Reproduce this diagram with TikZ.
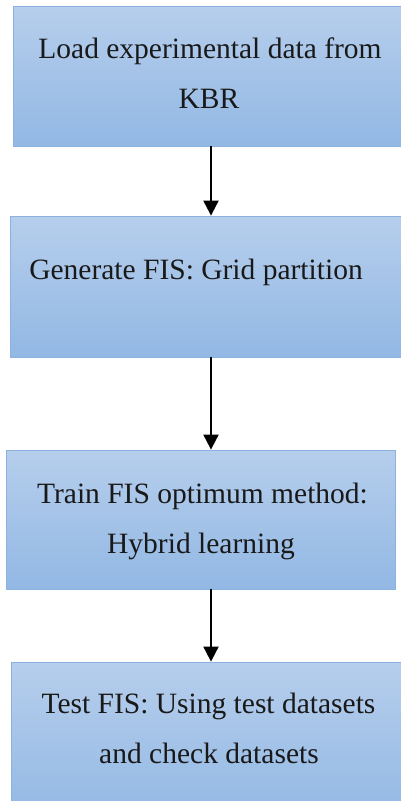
\documentclass[tikz,border=0pt]{standalone}
\usepackage{fontspec}
\setmainfont{Liberation Serif}
\usetikzlibrary{arrows.meta}
\definecolor{boxtop}{RGB}{182,206,236}
\definecolor{boxbot}{RGB}{146,184,228}
\definecolor{boxline}{RGB}{141,178,224}
\tikzset{
  stepbox/.style={draw=boxline, line width=0.8pt, rectangle, top color=boxtop, bottom color=boxbot, inner sep=0pt},
  lbl/.style={font=\fontsize{29.5}{33}\selectfont, text=black!90, inner sep=0pt, anchor=base},
  flow/.style={line width=2pt, -{Triangle[width=15pt,length=15pt]}}
}
\begin{document}
\begin{tikzpicture}[x=1pt,y=-1pt]
\useasboundingbox (0,0) rectangle (400,801);
% process boxes
\node[stepbox, minimum width=388pt, minimum height=140pt] (b1) at (207,76) {};
\node[stepbox, minimum width=391pt, minimum height=141pt] (b2) at (205.5,286.5) {};
\node[stepbox, minimum width=389pt, minimum height=139pt] (b3) at (200.5,519.5) {};
\node[stepbox, minimum width=391pt, minimum height=160pt] (b4) at (206.5,742) {};
% labels
\node[lbl] (t1a) at (210,58) {Load experimental data from};
\node[lbl] (t1b) at (209,108) {KBR};
\node[lbl] (t2a) at (196,279) {Generate FIS: Grid partition};
\node[lbl] (t3a) at (202.5,503) {Train FIS optimum method:};
\node[lbl] (t3b) at (201,553) {Hybrid learning};
\node[lbl] (t4a) at (208.5,713) {Test FIS: Using test datasets};
\node[lbl] (t4b) at (209,763) {and check datasets};
% connectors
\coordinate (ax) at (211,0);
\draw[flow] (b1.south -| ax) -- (b2.north -| ax);
\draw[flow] (b2.south -| ax) -- (b3.north -| ax);
\draw[flow] (b3.south -| ax) -- (b4.north -| ax);
\end{tikzpicture}
\end{document}
